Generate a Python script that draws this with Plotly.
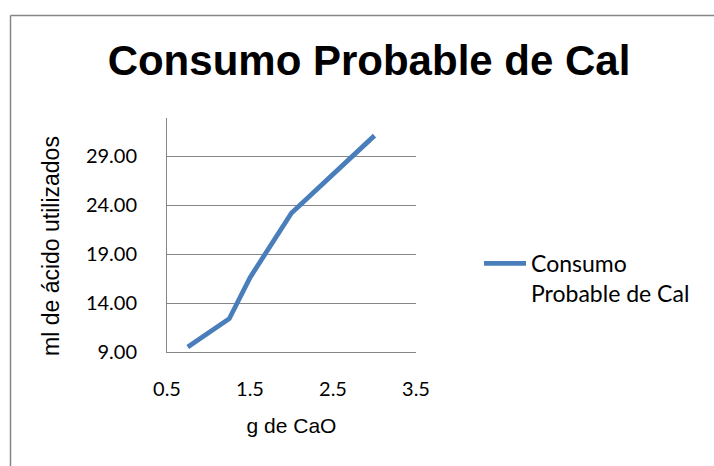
import plotly.graph_objects as go

# g de CaO vs ml de ácido utilizados
g_cao = [0.75, 1.25, 1.5, 2.0, 3.0]
ml_acido = [9.5, 12.4, 16.6, 23.2, 31.1]
series_name = "Consumo<br>Probable de Cal"
title_text = "Consumo Probable de Cal"
x_title = "g de CaO"
y_title = "ml de ácido utilizados"
x_ticks = [0.5, 1.5, 2.5, 3.5]
y_ticks = [9, 14, 19, 24, 29]

W, H = 714, 466
L, R, T, B = 167, 298, 118, 114
pw, ph = W - L - R, H - T - B

def px_x(x):
    return (x - L) / pw

def px_y(y):
    return (H - B - y) / ph

tick_font = dict(family="Lato, Open Sans, sans-serif", size=20, color="#000000")
label_font = dict(family="Liberation Sans, Arial, sans-serif", size=22, color="#000000")

fig = go.Figure()
fig.add_trace(go.Scatter(
    x=g_cao, y=ml_acido, mode="lines", name=series_name,
    line=dict(color="#4A7EBB", width=4.8),
    showlegend=True,
))

fig.update_layout(
    width=W, height=H,
    margin=dict(l=L, r=R, t=T, b=B),
    paper_bgcolor="white", plot_bgcolor="white",
    title=dict(text="<b>" + title_text + "</b>", x=px_x(369), xref="paper",
               y=1 - 60 / H, yref="container", xanchor="center", yanchor="middle",
               font=dict(family="Liberation Sans, Arial, sans-serif", size=42, color="#000000")),
    xaxis=dict(
        range=[0.5, 3.5], tickvals=x_ticks, ticktext=[str(v) for v in x_ticks],
        showgrid=False, zeroline=False,
        showline=True, linecolor="#868686", linewidth=1,
        ticks="", ticklabelstandoff=19, tickfont=tick_font,
        title=dict(text=x_title, standoff=19,
                   font=dict(family="Liberation Sans, Arial, sans-serif", size=21, color="#000000")),
    ),
    yaxis=dict(
        range=[9, 32.9], tickvals=y_ticks, ticktext=[f"{v:.2f}" for v in y_ticks],
        showgrid=True, gridcolor="#868686", gridwidth=1, zeroline=False,
        showline=True, linecolor="#868686", linewidth=1,
        ticks="", ticklabelstandoff=25, tickfont=tick_font,
    ),
    annotations=[
        dict(text=y_title, textangle=-90, xref="paper", yref="paper",
             x=px_x(51), y=px_y(246), xanchor="center", yanchor="middle",
             showarrow=False, font=dict(family="Liberation Sans, Arial, sans-serif",
                                        size=23, color="#000000")),
    ],
    legend=dict(x=px_x(479), y=px_y(242), xanchor="left", yanchor="top",
                valign="top", itemwidth=42, bgcolor="rgba(0,0,0,0)",
                font=dict(family="Lato, Open Sans, sans-serif", size=23, color="#000000")),
    shapes=[
        dict(type="line", xref="paper", yref="paper",
             x0=px_x(10.5), x1=px_x(10.5), y0=px_y(15.5), y1=px_y(H + 2),
             line=dict(color="#868686", width=1.5)),
        dict(type="line", xref="paper", yref="paper",
             x0=px_x(10.5), x1=px_x(W + 2), y0=px_y(15.5), y1=px_y(15.5),
             line=dict(color="#868686", width=1.5)),
    ],
)

fig.write_html("out.html")
